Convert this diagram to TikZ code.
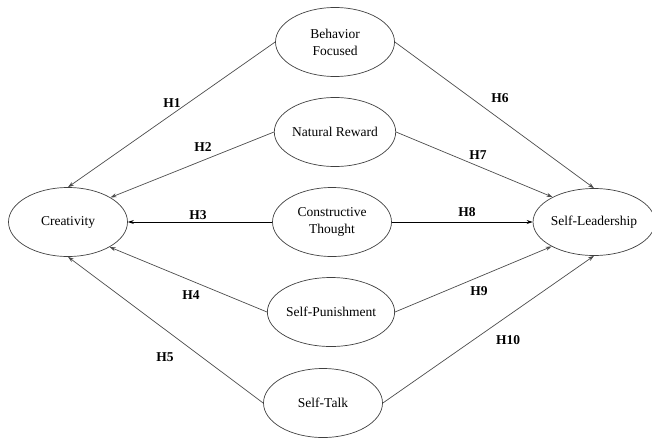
\documentclass[tikz,border=0pt]{standalone}
\usepackage{fontspec}
\setmainfont{Liberation Serif}
\usetikzlibrary{shapes.geometric,arrows.meta}

\tikzset{
  construct/.style={draw=black!75, ellipse, line width=0.7pt, minimum width=119pt,
    minimum height=69pt, inner sep=0pt, align=center, font=\fontsize{13.5}{17}\selectfont},
  path/.style={draw=black!70, line width=0.7pt, -{Stealth[length=6pt,width=4pt,fill=black]}},
  hyp/.style={font=\fontsize{13.5}{17}\selectfont\bfseries, inner sep=0pt}
}

\begin{document}
\begin{tikzpicture}[x=1pt, y=-1pt]

\useasboundingbox (0,0) rectangle (652,439);

\node[construct] (cre) at (68,222) {Creativity};
\node[construct, minimum width=115pt, minimum height=67pt] (sl) at (594,222) {Self-Leadership};

\node[construct] (bf) at (335,42) {Behavior\\Focused};
\node[construct] (nr) at (335,132) {Natural Reward};
\node[construct] (ct) at (332,222) {Constructive\\Thought};
\node[construct] (sp) at (331,312) {Self-Punishment};
\node[construct] (st) at (323,403) {Self-Talk};

\draw[path] (bf.west) -- (cre.north);
\draw[path] (nr.west) -- (cre.30);
\draw[path, draw=black] (ct.west) -- (cre.east);
\draw[path] (sp.west) -- (cre.-31);
\draw[path] (st.west) -- (cre.south);

\draw[path] (bf.east) -- (sl.north);
\draw[path] (nr.east) -- (sl.149);
\draw[path, draw=black] (ct.east) -- (sl.west);
\draw[path] (sp.east) -- (sl.210);
\draw[path] (st.east) -- (sl.south);

\node[hyp] (h1) at (172,103) {H1};
\node[hyp] (h2) at (203,147) {H2};
\node[hyp] (h3) at (198,215) {H3};
\node[hyp] (h4) at (191,295) {H4};
\node[hyp] (h5) at (165,357) {H5};
\node[hyp] (h6) at (500,98) {H6};
\node[hyp] (h7) at (478,155) {H7};
\node[hyp] (h8) at (467,212) {H8};
\node[hyp] (h9) at (479,291) {H9};
\node[hyp] (h10) at (508,340) {H10};

\end{tikzpicture}
\end{document}
